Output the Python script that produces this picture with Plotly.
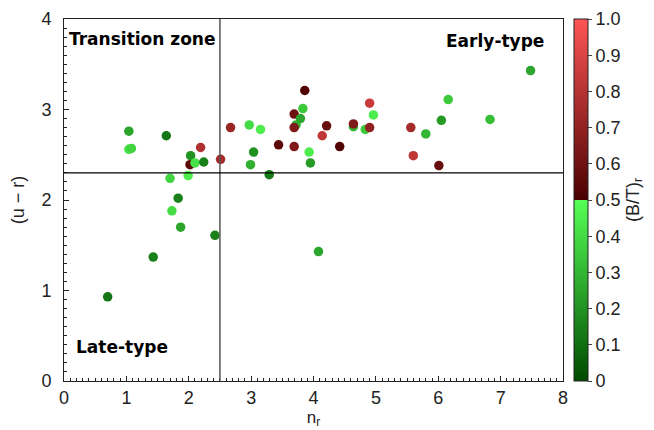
import plotly.graph_objects as go

n_r = [0.70, 1.04, 1.04, 1.08, 1.64, 2.19, 2.03, 2.02, 2.10, 2.24, 2.51, 2.67, 2.97, 3.15, 3.04,
       2.99, 3.29, 3.44, 3.69, 3.72, 3.69, 3.69, 3.86, 3.83, 3.79, 3.93, 3.95, 4.14, 4.21, 4.42,
       4.64, 4.64, 4.90, 4.83, 4.90, 4.96, 5.56, 5.60, 5.80, 6.01, 6.05, 6.16, 6.83, 7.48, 1.70,
       1.99, 1.83, 1.73, 1.87, 2.42, 1.43, 4.08]
u_r = [0.93, 2.76, 2.56, 2.57, 2.71, 2.58, 2.49, 2.39, 2.41, 2.42, 2.45, 2.80, 2.83, 2.78, 2.53,
       2.39, 2.28, 2.61, 2.95, 2.83, 2.80, 2.59, 3.21, 3.01, 2.90, 2.53, 2.41, 2.71, 2.82, 2.59,
       2.81, 2.84, 3.07, 2.78, 2.80, 2.94, 2.80, 2.49, 2.73, 2.38, 2.88, 3.11, 2.89, 3.43, 2.24,
       2.27, 2.02, 1.88, 1.70, 1.61, 1.37, 1.43]
bt = [0.12, 0.25, 0.42, 0.38, 0.12, 0.78, 0.20, 0.55, 0.42, 0.15, 0.75, 0.72, 0.40, 0.45, 0.20,
      0.28, 0.14, 0.55, 0.60, 0.30, 0.65, 0.65, 0.52, 0.35, 0.25, 0.45, 0.22, 0.82, 0.58, 0.52,
      0.30, 0.65, 0.85, 0.35, 0.70, 0.45, 0.75, 0.82, 0.30, 0.58, 0.22, 0.35, 0.32, 0.25, 0.38,
      0.45, 0.15, 0.40, 0.25, 0.15, 0.15, 0.25]

cb_ticks = [0, 0.1, 0.2, 0.3, 0.4, 0.5, 0.6, 0.7, 0.8, 0.9, 1.0]
cb_labels = ["0", "0.1", "0.2", "0.3", "0.4", "0.5", "0.6", "0.7", "0.8", "0.9", "1.0"]
n_split = 2.5
ur_split = 2.3

colorscale = [[0.0, "#004a00"], [0.4999, "#55ff55"], [0.5, "#4a0000"], [1.0, "#ff5555"]]

FONT = "Liberation Sans"

fig = go.Figure()
fig.add_trace(go.Scatter(
    x=n_r, y=u_r, mode="markers",
    marker=dict(size=9.5, color=bt, cmin=0, cmax=1, colorscale=colorscale,
                line=dict(width=0),
                colorbar=dict(
                    x=1.022, xanchor="left", xpad=0, y=0.5, yanchor="middle",
                    len=1.0, lenmode="fraction", thickness=14, ypad=0,
                    outlinewidth=1, outlinecolor="#222",
                    tickvals=cb_ticks, ticktext=cb_labels, ticks="outside", ticklen=4,
                    tickfont=dict(family=FONT, size=18, color="#222"),
                    title=dict(text="(B/T)<sub>r</sub>", side="right",
                               font=dict(family=FONT, size=18, color="#222")),
                )),
    showlegend=False, hoverinfo="skip",
))

fig.add_shape(type="line", xref="x", yref="paper", x0=n_split, x1=n_split, y0=0, y1=1,
              line=dict(color="#555", width=1.5))
fig.add_shape(type="line", xref="paper", yref="y", x0=0, x1=1, y0=ur_split, y1=ur_split,
              line=dict(color="black", width=1.2))

ann_font = dict(family="DejaVu Sans", size=17, color="black")
fig.add_annotation(x=0.0, y=1.0, xref="paper", yref="paper", xanchor="left", yanchor="top",
                   xshift=3, yshift=-8, text="<b>Transition zone</b>", showarrow=False, font=ann_font)
fig.add_annotation(x=1.0, y=1.0, xref="paper", yref="paper", xanchor="right", yanchor="top",
                   xshift=-17, yshift=-10, text="<b>Early-type</b>", showarrow=False, font=ann_font)
fig.add_annotation(x=0.0, y=0.0, xref="paper", yref="paper", xanchor="left", yanchor="bottom",
                   xshift=10, yshift=22, text="<b>Late-type</b>", showarrow=False, font=ann_font)

axis_common = dict(showgrid=False, zeroline=False, showline=True, linecolor="#222", linewidth=1,
                   mirror=True, ticks="inside", ticklen=5, tickcolor="#222", automargin=False,
                   tickfont=dict(family=FONT, size=18, color="#222"),
                   minor=dict(ticks="inside", ticklen=3, dtick=0.1, tickcolor="#222"))
fig.update_xaxes(range=[0, 8], dtick=1, title=dict(text="n<sub>r</sub>", standoff=2,
                 font=dict(family=FONT, size=17, color="#222")), **axis_common)
fig.update_yaxes(range=[0, 4], dtick=1, ticklabelstandoff=8,
                 title=dict(text="(u − r)", standoff=14,
                            font=dict(family=FONT, size=18, color="#222")), **axis_common)

fig.update_layout(width=654, height=430, margin=dict(l=56, r=99, t=11, b=57, autoexpand=False),
                  plot_bgcolor="white", paper_bgcolor="white")

fig.write_html("out.html")
